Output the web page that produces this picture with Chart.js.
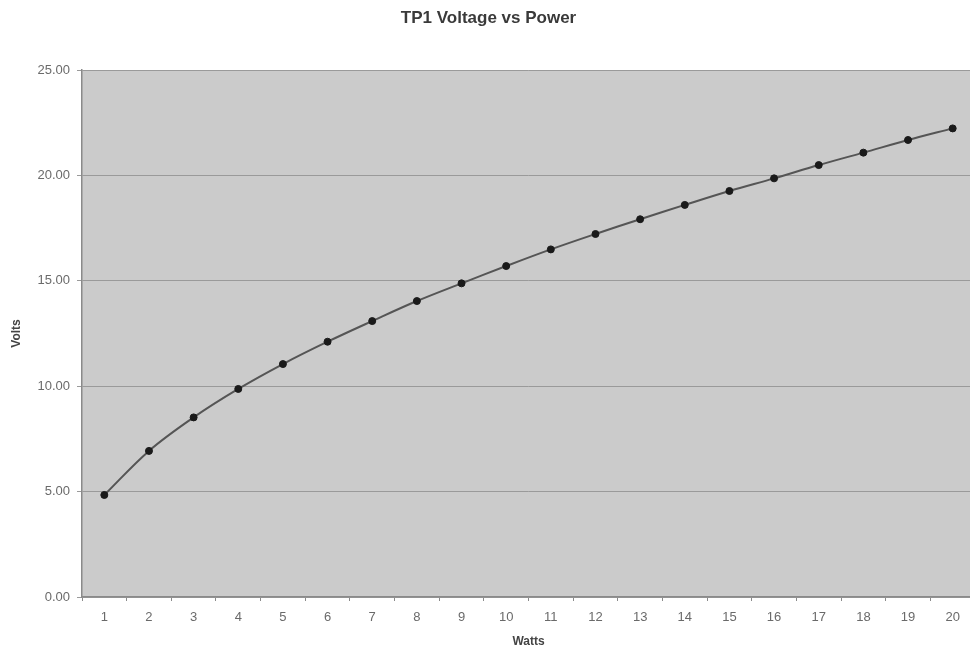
<!DOCTYPE html>
<html>
<head>
<meta charset="utf-8">
<script src="https://cdn.jsdelivr.net/npm/chart.js@4.4.0/dist/chart.umd.min.js"></script>
<style>
html,body{margin:0;padding:0;background:#fff;overflow:hidden;}
#wrap{width:980px;height:649px;position:relative;}
</style>
</head>
<body>
<div id="wrap"><canvas id="c"></canvas></div>
<script>
const watts = ['1','2','3','4','5','6','7','8','9','10','11','12','13','14','15','16','17','18','19','20'];
const volts = [4.84, 6.93, 8.52, 9.87, 11.05, 12.11, 13.09, 14.04, 14.88, 15.70, 16.49, 17.22, 17.92, 18.60, 19.26, 19.86, 20.49, 21.08, 21.68, 22.23];
const yTicks = [0, 5, 10, 15, 20, 25];

const plotBg = {
  id: 'plotBg',
  beforeDraw(chart) {
    const {ctx, chartArea: a} = chart;
    ctx.save();
    ctx.fillStyle = '#cbcbcb';
    ctx.fillRect(a.left, a.top, a.right - a.left, a.bottom - a.top);
    ctx.restore();
  }
};

const font = "'Liberation Sans', Arial, sans-serif";

new Chart(document.getElementById('c'), {
  type: 'line',
  data: {
    labels: watts,
    datasets: [{
      data: volts,
      borderColor: '#555555',
      borderWidth: 2,
      tension: 0.35,
      pointRadius: 3.5,
      pointBackgroundColor: '#1a1a1a',
      pointBorderColor: '#1a1a1a',
      pointBorderWidth: 1,
      fill: false
    }]
  },
  options: {
    responsive: true,
    maintainAspectRatio: false,
    animation: false,
    layout: {padding: {left: 0, right: 3, top: 0, bottom: 0}},
    plugins: {
      legend: {display: false},
      tooltip: {enabled: false},
      title: {
        display: true,
        text: 'TP1 Voltage vs Power',
        color: '#3a3a3a',
        font: {family: font, size: 17, weight: 'bold'},
        padding: {top: 7.8, bottom: 41.8}
      }
    },
    scales: {
      x: {
        offset: true,
        afterFit(s) { s.height = 52; },
        grid: {
          offset: true,
          drawOnChartArea: false,
          drawTicks: true,
          tickLength: 4,
          color: '#8a8a8a'
        },
        border: {color: '#8a8a8a', width: 1.5},
        ticks: {
          color: '#6a6a6a',
          font: {family: font, size: 13},
          padding: 8.7,
          maxRotation: 0,
          autoSkip: false
        },
        title: {
          display: true,
          text: 'Watts',
          color: '#444444',
          font: {family: font, size: 12, weight: 'bold'},
          padding: {top: 0, bottom: 0}
        }
      },
      y: {
        min: 0,
        max: 25,
        afterFit(s) { s.width = 82; },
        afterBuildTicks(s) { s.ticks = yTicks.map(v => ({value: v})); },
        grid: {
          color: '#9a9a9a',
          lineWidth: 1,
          drawTicks: true,
          tickLength: 5
        },
        border: {color: '#8a8a8a', width: 1.5},
        ticks: {
          color: '#6a6a6a',
          font: {family: font, size: 13},
          padding: 7,
          callback: v => Number(v).toFixed(2)
        },
        title: {
          display: true,
          text: 'Volts',
          color: '#444444',
          font: {family: font, size: 12, weight: 'bold'},
          padding: {top: 9.8, bottom: 0}
        }
      }
    }
  },
  plugins: [plotBg]
});
</script>
</body>
</html>
